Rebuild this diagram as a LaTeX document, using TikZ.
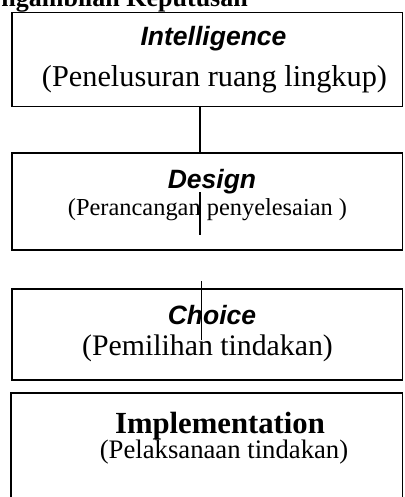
\documentclass[tikz,border=0pt]{standalone}
\usepackage{fontspec}
\setmainfont{Liberation Serif}
\newfontfamily\headsans{Liberation Sans}
\begin{document}
\begin{tikzpicture}[x=1pt,y=-1pt,
  stage/.style={draw=black, line width=1.6pt, rectangle, inner sep=0pt},
  txt/.style={inner sep=0pt, anchor=base},
  heading/.style={txt, font=\headsans\bfseries\itshape\fontsize{26.5}{30}\selectfont},
  link/.style={line width=1.5pt}]
\useasboundingbox (0,0) rectangle (404,497);
\clip (0,0) rectangle (404,497);

% title, partly outside the page
\node[txt, anchor=base east, font=\bfseries\fontsize{26}{30}\selectfont] (title) at (248,7) {ngambilan Keputusan};

% stage boxes
\node[stage, minimum width=390.5pt, minimum height=94pt] (s1) at (207.25,59.7) {};
\node[stage, minimum width=390.5pt, minimum height=97pt] (s2) at (207.25,201.5) {};
\node[stage, minimum width=390.5pt, minimum height=91pt] (s3) at (207.25,334.5) {};
\node[stage, minimum width=391.5pt, minimum height=137pt] (s4) at (206.75,461.5) {};

% texts
\node[heading] (t1) at (213.5,46) {Intelligence};
\node[txt, font=\fontsize{30.3}{34}\selectfont] (u1) at (214.5,87) {(Penelusuran ruang lingkup)};
\node[heading] (t2) at (212,188) {Design};
\node[txt, font=\fontsize{24.4}{28}\selectfont] (u2) at (207.5,215) {(Perancangan penyelesaian )};
\node[heading] (t3) at (212,324) {Choice};
\node[txt, font=\fontsize{29.8}{34}\selectfont] (u3) at (207.5,355) {(Pemilihan tindakan)};
\node[txt, font=\bfseries\fontsize{30.7}{34}\selectfont] (t4) at (220,433) {Implementation};
\node[txt, font=\fontsize{26.7}{30}\selectfont] (u4) at (224,458) {(Pelaksanaan tindakan)};

% connectors
\coordinate (j1) at (200,192);
\coordinate (j2) at (200,235);
\coordinate (k1) at (201.5,281);
\coordinate (k2) at (201.5,340);
\draw[link] (s1.south -| j1) -- (s2.north -| j1);
\draw[link] (j1) -- (j2);
\draw[link] (k1) -- (k2);
\end{tikzpicture}
\end{document}
